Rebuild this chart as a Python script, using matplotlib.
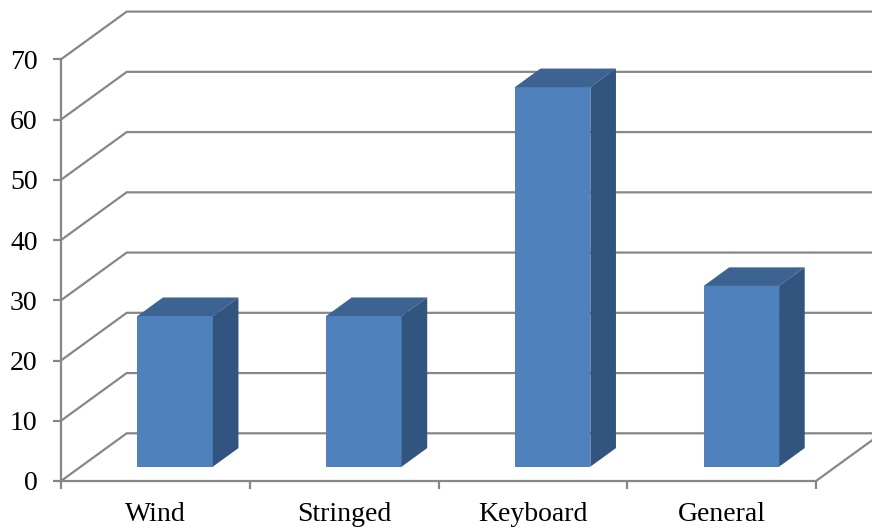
import matplotlib
matplotlib.use("Agg")
import matplotlib.pyplot as plt
from matplotlib.patches import Polygon
import numpy as np

categories = ["Wind", "Stringed", "Keyboard", "General"]
values = [25, 25, 63, 30]
y_ticks = [0, 10, 20, 30, 40, 50, 60, 70]

W, H = 872, 530
fig = plt.figure(figsize=(W / 100, H / 100), dpi=100)
ax = fig.add_axes([61 / W, 1 - 481 / H, (816 - 61) / W, (481 - 59.3) / H])
ax.set_xlim(-0.5, 3.5)
ax.set_ylim(0, 70)

px_per_cat = (816 - 61) / 4
px_per_val = (481 - 59.3) / 70
DX = 65.7 / px_per_cat      # depth offset in category units
DY = 47.7 / px_per_val      # depth offset in value units

grid_c = "#878787"
lw = 1.6
front_c = "#4F81BD"
top_c = "#3C6391"
side_c = "#31557F"

# walls (side wall diagonals + back wall gridlines)
for v in y_ticks:
    ax.plot([-0.5, -0.5 + DX, 3.5 + DX], [v, v + DY, v + DY], color=grid_c,
            lw=lw, clip_on=False, zorder=1, solid_joinstyle="miter",
            solid_capstyle="butt")
# floor right edge
ax.plot([3.5, 3.5 + DX], [0, DY], color=grid_c, lw=lw, clip_on=False, zorder=1)

# bars
d0 = 0.30
dd = 0.39
bw = 0.40
xi = np.arange(len(categories))
base = d0 * DY
ax.bar(xi + d0 * DX, values, width=bw, bottom=base, color=front_c,
       edgecolor="none", zorder=3)
for x, v in zip(xi, values):
    xl = x - bw / 2 + d0 * DX
    xr = xl + bw
    top = base + v
    ax.add_patch(Polygon([(xl, top), (xr, top), (xr + dd * DX, top + dd * DY),
                          (xl + dd * DX, top + dd * DY)], closed=True,
                         facecolor=top_c, edgecolor="none", zorder=4,
                         clip_on=False))
    ax.add_patch(Polygon([(xr, base), (xr, top), (xr + dd * DX, top + dd * DY),
                          (xr + dd * DX, base + dd * DY)], closed=True,
                         facecolor=side_c, edgecolor="none", zorder=4,
                         clip_on=False))

# axes styling
for s in ["top", "right"]:
    ax.spines[s].set_visible(False)
for s in ["left", "bottom"]:
    ax.spines[s].set_color(grid_c)
    ax.spines[s].set_linewidth(lw)
    ax.spines[s].set_zorder(2)

font = "Liberation Serif"
ax.set_yticks(y_ticks)
ax.set_yticklabels([str(t) for t in y_ticks], fontfamily=font, fontsize=20)
ax.tick_params(axis="y", length=5.8, width=lw, color=grid_c, pad=11)

ax.set_xticks([-0.5, 0.5, 1.5, 2.5, 3.5])
ax.set_xticklabels([])
ax.tick_params(axis="x", which="major", length=5.5, width=lw, color=grid_c)
ax.set_xticks(xi, minor=True)
ax.set_xticklabels(categories, minor=True, fontfamily=font, fontsize=20)
ax.tick_params(axis="x", which="minor", length=0, pad=15)

ax.set_facecolor("none")
fig.savefig("out.png", dpi=100)
